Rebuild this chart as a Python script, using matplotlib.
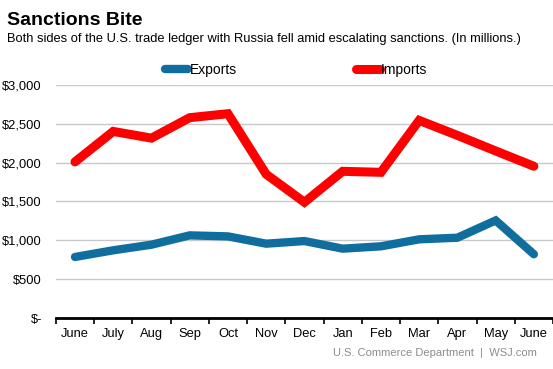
import numpy as np
import matplotlib
matplotlib.use("Agg")
import matplotlib.pyplot as plt

plt.rcParams['font.family'] = ['Liberation Sans', 'DejaVu Sans']

# monthly trade with Russia, millions of dollars
months = ["June", "July", "Aug", "Sep", "Oct", "Nov", "Dec",
          "Jan", "Feb", "Mar", "Apr", "May", "June"]
exports = [786, 872, 944, 1064, 1051, 957, 991, 893, 923, 1013, 1034, 1256, 821]
imports = [2009, 2401, 2315, 2578, 2629, 1850, 1490, 1888, 1875, 2543, 2350, 2150, 1953]
yticks = [0, 500, 1000, 1500, 2000, 2500, 3000]
ylabels = ["$-", "$500", "$1,000", "$1,500", "$2,000", "$2,500", "$3,000"]

blue = "#0f6e9e"
red = "#ff0000"

fig = plt.figure(figsize=(5.53, 3.69), dpi=100)
ax = fig.add_axes([0.101, 0.138, 0.899, 0.632])

x = np.arange(len(months))
ax.plot(x, exports, color=blue, lw=6, solid_capstyle='round', solid_joinstyle='miter', label="Exports", zorder=3)
ax.plot(x, imports, color=red, lw=6.5, solid_capstyle='round', solid_joinstyle='miter', label="Imports", zorder=3)

ax.set_xlim(-0.5, 12.5)
ax.set_ylim(0, 3000)
ax.set_yticks(yticks)
ax.set_yticklabels(ylabels)
ax.set_xticks(x)
ax.set_xticklabels(months)
ax.set_xticks(np.arange(-0.5, 13, 1), minor=True)

for s in ["top", "right", "left"]:
    ax.spines[s].set_visible(False)
ax.spines["bottom"].set_linewidth(2)
ax.spines["bottom"].set_color("black")
ax.grid(axis='y', color="#c8c8c8", lw=1)
ax.set_axisbelow(True)

ax.tick_params(axis='y', length=0, pad=10, labelsize=9.3)
ax.tick_params(axis='x', which='major', length=0, pad=7, labelsize=9.3)
ax.tick_params(axis='x', which='minor', length=4, width=1.2, direction='out')

leg = fig.legend(loc='center left', bbox_to_anchor=(0.275, 0.81), ncol=2, frameon=False,
                 fontsize=10, handlelength=1.7, handletextpad=0.1, columnspacing=8.6)

fig.text(0.013, 0.945, "Sanctions Bite", fontsize=14, fontweight='bold', va='center')
fig.text(0.013, 0.893, "Both sides of the U.S. trade ledger with Russia fell amid escalating sanctions. (In millions.)",
         fontsize=9.3, va='center')
fig.text(0.971, 0.043, "U.S. Commerce Department  |  WSJ.com", fontsize=8, color="#8c8c8c",
         ha='right', va='center')

fig.savefig("out.png", dpi=100)
